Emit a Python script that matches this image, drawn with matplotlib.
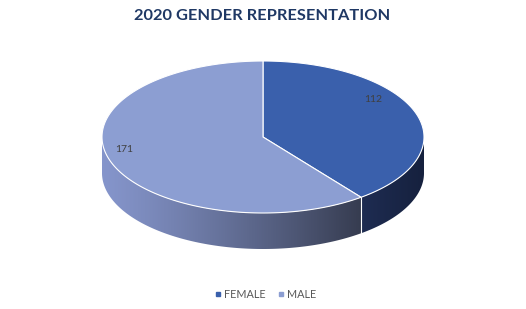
import numpy as np
import matplotlib
matplotlib.use("Agg")
import matplotlib.pyplot as plt
from matplotlib.patches import Polygon
from matplotlib.colors import LinearSegmentedColormap

title = "2020 GENDER REPRESENTATION"
categories = ["FEMALE", "MALE"]
values = [112, 171]
top_colors = ["#3A60AC", "#8C9ED2"]
side_left = ["#1E2C52", "#8595CB"]
side_right = ["#16213E", "#363C50"]

W, H = 526, 309
fig = plt.figure(figsize=(W / 100, H / 100), dpi=100)
ax = fig.add_axes([0, 0, 1, 1])
ax.set_xlim(0, W)
ax.set_ylim(H, 0)
ax.axis("off")

cx, cy, a, b, depth = 263, 137, 161, 76, 36

def pt(t, dy=0):
    return cx + a * np.cos(t), cy - b * np.sin(t) + dy

total = sum(values)
angles = [np.pi / 2]
for v in values:
    angles.append(angles[-1] - 2 * np.pi * v / total)

# sides
for i in range(len(values)):
    t0, t1 = angles[i], angles[i + 1]
    lo, hi = min(t0, t1), max(t0, t1)
    for off in (0, -2 * np.pi, 2 * np.pi):
        s, e = max(lo, -np.pi + off), min(hi, 0 + off)
        if e <= s:
            continue
        ts = np.linspace(s, e, 120)
        xs, ys = pt(ts)
        xb, yb = pt(ts[::-1], depth)
        poly = np.column_stack([np.concatenate([xs, xb]), np.concatenate([ys, yb])])
        patch = Polygon(poly, closed=True, facecolor="none", edgecolor="none")
        ax.add_patch(patch)
        cmap = LinearSegmentedColormap.from_list("g", [side_left[i], side_right[i]])
        x0, x1 = poly[:, 0].min(), poly[:, 0].max()
        y0, y1 = poly[:, 1].min(), poly[:, 1].max()
        grad = np.linspace(0, 1, 256)[None, :]
        if i == 1:
            grad = grad ** 1.2
        im = ax.imshow(grad, cmap=cmap, extent=(x0, x1, y1, y0), aspect="auto",
                       interpolation="bicubic", zorder=1)
        im.set_clip_path(patch)

# separator on side
xe, ye = pt(angles[1])
ax.plot([xe, xe], [ye, ye + depth], color="white", lw=0.8, zorder=2)

# top wedges
for i in range(len(values)):
    ts = np.linspace(angles[i], angles[i + 1], 200)
    xs, ys = pt(ts)
    poly = np.column_stack([np.concatenate([[cx], xs]), np.concatenate([[cy], ys])])
    ax.add_patch(Polygon(poly, closed=True, facecolor=top_colors[i],
                         edgecolor="white", lw=0.8, zorder=3))

# labels
label_pos = [(373, 100), (124, 150)]
for v, (lx, ly) in zip(values, label_pos):
    ax.text(lx, ly, str(v), fontsize=7.5, color="#404040", ha="center", va="center",
            family="Lato", zorder=4)

ax.text(262, 16, title, fontsize=11.8, fontweight="bold", color="#1F3864",
        ha="center", va="center", family="Lato")

# legend
leg_x = [218, 281]
for i, (c, lx) in enumerate(zip(categories, leg_x)):
    ax.add_patch(plt.Rectangle((lx - 2, 292), 4, 4, color=top_colors[i], zorder=4))
    ax.text(lx + 6, 294, c, fontsize=7.8, color="#595959", ha="left", va="center",
            family="Lato")

fig.savefig("out.png", dpi=100)
